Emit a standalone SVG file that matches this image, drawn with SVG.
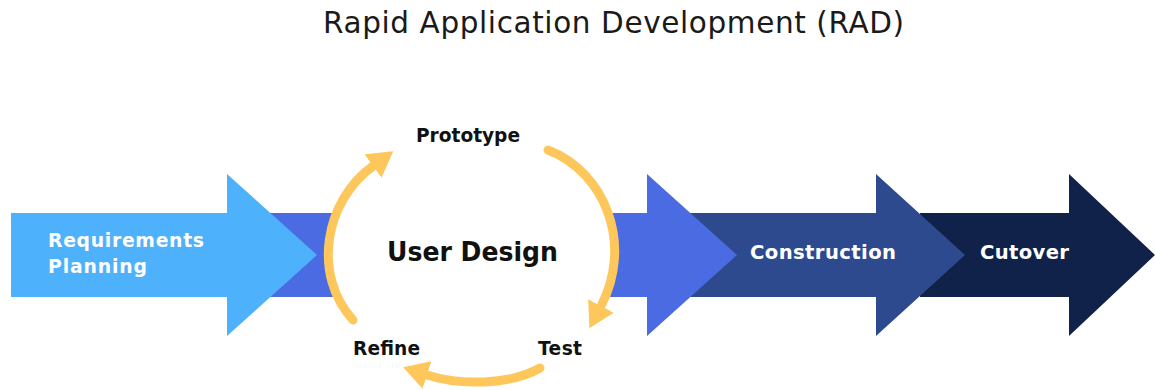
<svg xmlns="http://www.w3.org/2000/svg" width="1155" height="390" viewBox="0 0 1155 390">
  <defs>
    <style>
      .t { font-family: "DejaVu Sans", "Open Sans", "Liberation Sans", sans-serif; }
      .title { font-size: 29.5px; font-weight: 400; fill: #1a1a1a; }
      .phase { font-size: 19.6px; font-weight: 700; fill: #ffffff; }
      .req { font-size: 18.8px; }
      .center { font-size: 26.5px; font-weight: 700; fill: #111111; }
      .step { font-size: 18.6px; font-weight: 700; fill: #111111; }
      .cycle { fill: none; stroke: #FEC75C; stroke-width: 9; stroke-linecap: round; }
    </style>
    <marker id="head" markerUnits="userSpaceOnUse" markerWidth="27" markerHeight="30" refX="0" refY="14.5" orient="auto" viewBox="0 0 27 30">
      <path d="M0,0 L25,14.5 L0,29 Z" fill="#FEC75C"/>
    </marker>
  </defs>

  <text class="t title" x="323" y="33" textLength="581" lengthAdjust="spacing">Rapid Application Development (RAD)</text>

  <g id="cutover">
    <path d="M920,213 H1069 V174 L1155,255 L1069,336 V297 H920 Z" fill="#10224A"/>
    <text class="t phase" x="980" y="259" textLength="89" lengthAdjust="spacing">Cutover</text>
  </g>
  <g id="construction">
    <path d="M690,213 H876 V174 L965,255 L876,336 V297 H690 Z" fill="#2D4A8F"/>
    <text class="t phase" x="750" y="259" textLength="146" lengthAdjust="spacing">Construction</text>
  </g>
  <g id="user-design">
    <path d="M200,213 H647 V174 L737,255 L647,336 V297 H200 Z" fill="#4A6BE2"/>
    <ellipse cx="471" cy="250" rx="141" ry="125" fill="#ffffff"/>
    <text class="t center" x="387" y="261" textLength="171" lengthAdjust="spacingAndGlyphs">User Design</text>
  </g>
  <g id="requirements-planning">
    <path d="M11,213 H227 V174 L317,255 L227,336 V297 H11 Z" fill="#4EB1FB"/>
    <text class="t phase req" x="48" y="247" textLength="156" lengthAdjust="spacing">Requirements</text>
    <text class="t phase req" x="48" y="273" textLength="99" lengthAdjust="spacing">Planning</text>
  </g>

  <g id="prototype">
    <text class="t step" x="416" y="142" textLength="104" lengthAdjust="spacing">Prototype</text>
  </g>
  <g id="test">
    <text class="t step" x="538" y="355" textLength="44" lengthAdjust="spacing">Test</text>
  </g>
  <g id="refine">
    <text class="t step" x="353" y="355" textLength="67" lengthAdjust="spacing">Refine</text>
  </g>

  <g id="connectors">
    <path class="cycle" d="M353,320 C312,275 324.4,201.2 373,166" marker-end="url(#head)"/>
    <path class="cycle" d="M548,150 C605,172 633.5,244 601,306" marker-end="url(#head)"/>
    <path class="cycle" d="M540,368 C510,385 460.3,385.7 427,375" marker-end="url(#head)"/>
  </g>
</svg>
